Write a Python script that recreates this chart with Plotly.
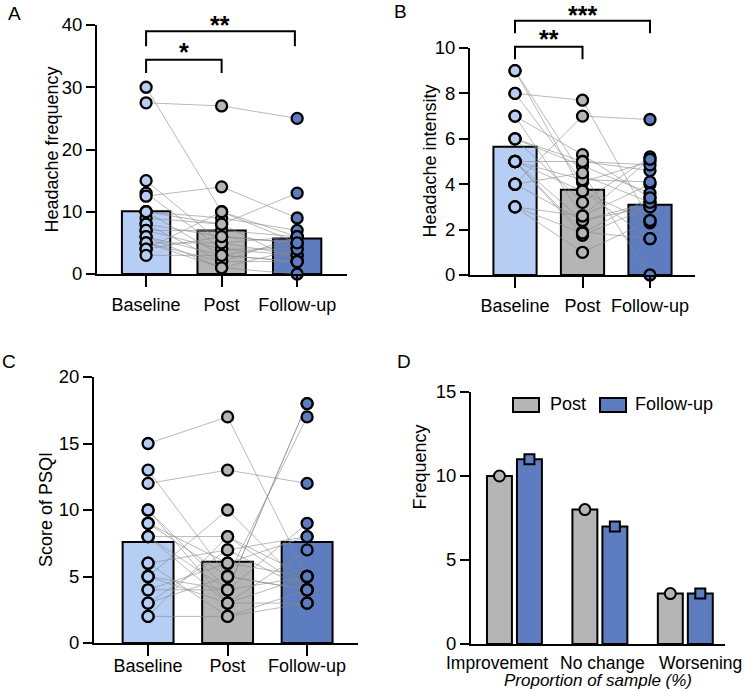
import plotly.graph_objects as go

W, H = 744, 691
FONT = "Liberation Sans, Arial, Helvetica, sans-serif"

# ---------------- data ----------------
groups = ["Baseline", "Post", "Follow-up"]
group_colors = ["#b6cdf4", "#b5b5b5", "#5d7dc0"]

# Panel A: headache frequency (per subject, 21 subjects)
freq_base = [30, 27.5, 15, 13, 12.5, 10, 10, 9, 8, 8, 7, 7, 6, 6, 5, 5, 5, 4, 4, 3, 10]
freq_post = [10, 27, 5, 4, 14, 9, 3, 8, 6, 2, 4, 7, 1, 3, 5, 2, 1, 10, 6, 3, 8]
freq_fu = [5, 25, 6, 3, 9, 7, 2, 13, 5, 6, 4, 6, 0, 5, 3, 2, 4, 6, 5, 2, 2]
freq_means = [10.1, 7.0, 5.7]

# Panel B: headache intensity
int_base = [9, 9, 8, 8, 7, 7, 6, 6, 6, 5, 5, 5, 5, 5, 5, 4, 4, 4, 3, 3, 3]
int_post = [4.4, 3.7, 7.7, 4.1, 5.3, 2.6, 5.0, 3.2, 4.8, 4.2, 2.4, 1.9, 5.0, 1.75, 3.7, 7.0, 2.4, 4.5, 1.0, 1.85, 2.6]
int_fu = [3.2, 1.6, 2.4, 5.0, 3.4, 4.0, 4.6, 5.2, 3.6, 4.1, 3.0, 1.6, 4.85, 3.0, 2.3, 6.85, 3.2, 0.0, 2.4, 3.4, 5.1]
int_means = [5.65, 3.75, 3.1]

# Panel C: PSQI score
psqi_base = [15, 13, 12, 10, 10, 9, 9, 8, 8, 8, 6, 5, 5, 5, 4, 4, 3, 3, 2, 2, 6]
psqi_post = [17, 5, 13, 4, 3, 5, 6, 8, 3, 4, 7, 10, 4, 3, 4, 6, 7, 5, 2, 8, 2]
psqi_fu = [5, 4, 12, 18, 5, 17, 8, 4, 7, 9, 4, 4, 5, 3, 18, 5, 8, 4, 3, 5, 4]
psqi_means = [7.6, 6.1, 7.6]

# Panel D: outcome frequency
outcomes = ["Improvement", "No change", "Worsening"]
d_post = [10, 8, 3]
d_fu = [11, 7, 3]

# significance brackets: (label, from group, to group, bracket level, leg end level)
freq_sig = [("*", 0, 1, 34.4, 32.3), ("**", 0, 1.97, 39.0, 36.6)]
int_sig = [("**", 0, 1, 10.05, 9.5), ("***", 0, 2, 11.2, 10.65)]

# ---------------- layout geometry (pixels) ----------------
P = {
    "A": dict(ax="", px=(97, 347), py=(274, 25), xr=(-0.65, 2.66), yr=(0, 40), dt=10, so=2),
    "B": dict(ax="2", px=(470, 695), py=(275, 48), xr=(-0.667, 2.667), yr=(0, 10), dt=2, so=2),
    "C": dict(ax="3", px=(94, 358), py=(643, 377), xr=(-0.68, 2.64), yr=(0, 20), dt=5, so=-6),
    "D": dict(ax="4", px=(471, 725), py=(644, 392), xr=(-0.503, 2.47), yr=(0, 15), dt=5, so=0),
}


def paper_x(k, v):
    p = P[k]
    fx = (v - p["xr"][0]) / (p["xr"][1] - p["xr"][0])
    return (p["px"][0] + fx * (p["px"][1] - p["px"][0])) / W


def paper_y(k, v):
    p = P[k]
    fy = (v - p["yr"][0]) / (p["yr"][1] - p["yr"][0])
    return 1 - (p["py"][0] + fy * (p["py"][1] - p["py"][0])) / H


fig = go.Figure()
shapes = []
annotations = []


def add_paired_panel(k, base, post, fu, means, ytitle, title_x):
    ax = P[k]["ax"]
    xa, ya = "x" + ax, "y" + ax
    fig.add_trace(go.Bar(
        x=[0, 1, 2], y=means, width=0.64, xaxis=xa, yaxis=ya,
        marker=dict(color=group_colors, line=dict(color="black", width=2)),
        showlegend=False, hoverinfo="skip"))
    lx, ly = [], []
    for b, p_, f in zip(base, post, fu):
        lx += [0, 1, 2, None]
        ly += [b, p_, f, None]
    fig.add_trace(go.Scatter(
        x=lx, y=ly, mode="lines", xaxis=xa, yaxis=ya,
        line=dict(color="#8a8a8a", width=0.6), showlegend=False, hoverinfo="skip"))
    for gi, vals in enumerate([base, post, fu]):
        fig.add_trace(go.Scatter(
            x=[gi] * len(vals), y=vals, mode="markers", xaxis=xa, yaxis=ya,
            cliponaxis=False,
            marker=dict(size=11, color=group_colors[gi], line=dict(color="black", width=2.3)),
            showlegend=False, hoverinfo="skip"))
    yc = (P[k]["py"][0] + P[k]["py"][1]) / 2
    annotations.append(dict(
        x=title_x / W, y=1 - yc / H, xref="paper", yref="paper", text=ytitle,
        textangle=-90, showarrow=False, font=dict(size=18, family=FONT, color="black"),
        xanchor="center", yanchor="middle"))


add_paired_panel("A", freq_base, freq_post, freq_fu, freq_means, "Headache frequency", 52)
add_paired_panel("B", int_base, int_post, int_fu, int_means, "Headache intensity", 429)
add_paired_panel("C", psqi_base, psqi_post, psqi_fu, psqi_means, "Score of PSQI", 46)


def add_brackets(k, sigs):
    for lab, g0, g1, top, leg in sigs:
        x0, x1 = paper_x(k, g0), paper_x(k, g1)
        yt, yl = paper_y(k, top), paper_y(k, leg)
        shapes.append(dict(
            type="path", xref="paper", yref="paper",
            path=f"M {x0},{yl} L {x0},{yt} L {x1},{yt} L {x1},{yl}",
            line=dict(color="black", width=2)))
        # keep the highest label inside the page
        ys = -7 if paper_y(k, top) < 0.95 else -9
        annotations.append(dict(
            x=(x0 + x1) / 2, y=yt, xref="paper", yref="paper", text="<b>" + lab + "</b>",
            showarrow=False, xanchor="center", yanchor="bottom", yshift=ys, borderpad=0,
            font=dict(size=25, family=FONT, color="black")))


add_brackets("A", freq_sig)
add_brackets("B", int_sig)

# Panel D
bw = 0.292
off_post, off_fu = -0.316, 0.035
fig.add_trace(go.Bar(
    x=[0, 1, 2], y=d_post, width=bw, offset=off_post, xaxis="x4", yaxis="y4",
    marker=dict(color=group_colors[1], line=dict(color="black", width=2)),
    showlegend=False, hoverinfo="skip"))
fig.add_trace(go.Bar(
    x=[0, 1, 2], y=d_fu, width=bw, offset=off_fu, xaxis="x4", yaxis="y4",
    marker=dict(color=group_colors[2], line=dict(color="black", width=2)),
    showlegend=False, hoverinfo="skip"))
fig.add_trace(go.Scatter(
    x=[i + off_post + bw / 2 for i in range(3)], y=d_post, mode="markers",
    xaxis="x4", yaxis="y4", cliponaxis=False,
    marker=dict(symbol="circle", size=11, color=group_colors[1], line=dict(color="black", width=2)),
    showlegend=False, hoverinfo="skip"))
fig.add_trace(go.Scatter(
    x=[i + off_fu + bw / 2 for i in range(3)], y=d_fu, mode="markers",
    xaxis="x4", yaxis="y4", cliponaxis=False,
    marker=dict(symbol="square", size=10, color=group_colors[2], line=dict(color="black", width=2)),
    showlegend=False, hoverinfo="skip"))

annotations.append(dict(
    x=420 / W, y=1 - 512 / H, xref="paper", yref="paper", text="Frequency",
    textangle=-90, showarrow=False, font=dict(size=18, family=FONT, color="black")))
annotations.append(dict(
    x=598 / W, y=0, xref="paper", yref="paper", text="<i>Proportion of sample (%)</i>",
    showarrow=False, xanchor="center", yanchor="bottom", yshift=0, borderpad=0,
    font=dict(size=17, family=FONT, color="black")))
# category labels of panel D (spread as in the original)
for name, cx in zip(outcomes, [497, 602, 700]):
    annotations.append(dict(x=cx / W, y=1 - 652 / H, xref="paper", yref="paper", text=name,
                            showarrow=False, xanchor="center", yanchor="top", borderpad=0,
                            font=dict(size=17.5, family=FONT, color="black")))

# manual legend for panel D
leg_items = [("Post", group_colors[1], 513, 548), ("Follow-up", group_colors[2], 600, 633)]
for name, col, bx, tx in leg_items:
    shapes.append(dict(type="rect", xref="paper", yref="paper",
                       x0=bx / W, x1=(bx + 26) / W, y0=1 - 412 / H, y1=1 - 398 / H,
                       fillcolor=col, line=dict(color="black", width=2)))
    annotations.append(dict(x=tx / W, y=1 - 404 / H, xref="paper", yref="paper", text=name,
                            showarrow=False, xanchor="left", yanchor="middle",
                            font=dict(size=18, family=FONT, color="black")))

# panel letters
for lab, x, y in [("A", 14, 13), ("B", 400, 12), ("C", 9, 362), ("D", 404, 362)]:
    annotations.append(dict(x=x / W, y=1 - y / H, xref="paper", yref="paper", text=lab,
                            showarrow=False, xanchor="center", yanchor="middle",
                            font=dict(size=19, family=FONT, color="black")))

layout = dict(
    width=W, height=H, margin=dict(l=0, r=0, t=0, b=0, autoexpand=False),
    paper_bgcolor="white", plot_bgcolor="white", barmode="overlay",
    font=dict(family=FONT, size=18, color="black"),
    shapes=shapes, annotations=annotations, showlegend=False,
)

for k, p in P.items():
    ax = p["ax"]
    xdom = [p["px"][0] / W, p["px"][1] / W]
    ydom = [1 - p["py"][0] / H, 1 - p["py"][1] / H]
    is_d = k == "D"
    layout["xaxis" + ax] = dict(
        domain=xdom, range=list(p["xr"]), anchor="y" + ax, automargin=False,
        tickvals=[0, 1, 2], ticktext=groups, showticklabels=not is_d,
        tickangle=0, ticklabelstandoff=p["so"],
        showline=True, linecolor="black", linewidth=2, mirror=False,
        ticks="" if is_d else "outside", ticklen=11, tickwidth=2, tickcolor="black",
        showgrid=False, zeroline=False, fixedrange=True,
        tickfont=dict(size=18, family=FONT, color="black"))
    layout["yaxis" + ax] = dict(
        domain=ydom, range=list(p["yr"]), anchor="x" + ax, automargin=False,
        dtick=p["dt"], tick0=0,
        showline=True, linecolor="black", linewidth=2,
        ticks="outside", ticklen=9, tickwidth=2, tickcolor="black",
        showgrid=False, zeroline=False, fixedrange=True,
        tickfont=dict(size=18.5, family=FONT, color="black"))

fig.update_layout(**layout)
fig.write_html("out.html")
